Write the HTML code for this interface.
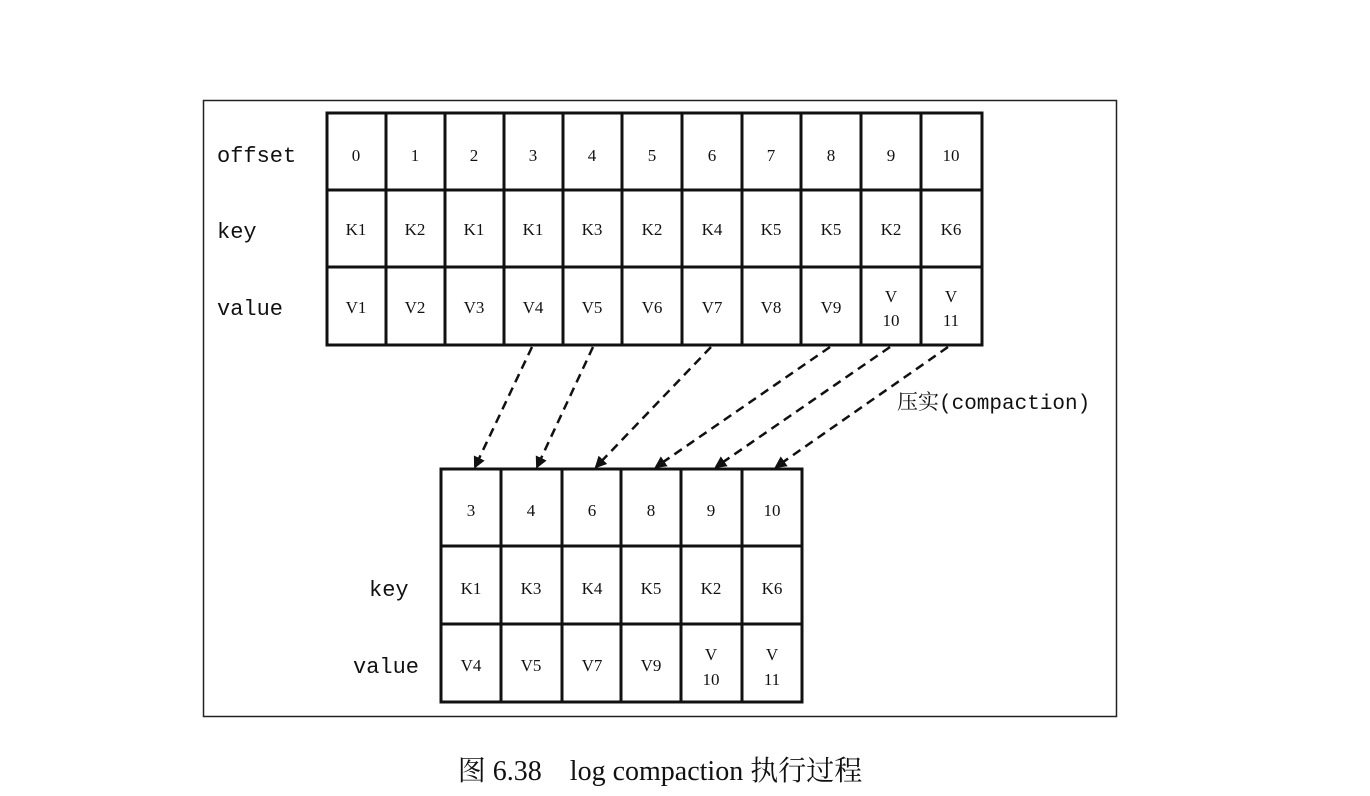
<!DOCTYPE html>
<html><head><meta charset="utf-8"><style>
html,body{margin:0;padding:0;background:#fff;}
body{width:1370px;height:796px;position:relative;overflow:hidden;}
svg{position:absolute;left:0;top:0;}
</style></head><body>
<svg width="1370" height="796" xmlns="http://www.w3.org/2000/svg">
<defs>
<marker id="ah" markerWidth="12" markerHeight="12" refX="10" refY="6" orient="auto" markerUnits="userSpaceOnUse">
<path d="M0,0 L12,6 L0,12 z" fill="#111"/>
</marker>
</defs>
<rect x="203.5" y="100.5" width="913" height="616" fill="none" stroke="#222" stroke-width="1.5"/>
<g font-family="Liberation Mono, monospace" font-size="22" fill="#111">
<text x="217" y="162">offset</text>
<text x="217" y="238">key</text>
<text x="217" y="315">value</text>
<text x="369" y="596">key</text>
<text x="353" y="673">value</text>
<text x="897" y="409" font-family="Liberation Mono, 'Noto Serif CJK SC', monospace" font-size="21">压实(compaction)</text>
</g>
<g stroke="#111" stroke-width="3" fill="none">
<rect x="327" y="113" width="655" height="232"/>
<line x1="327" y1="190" x2="982" y2="190"/>
<line x1="327" y1="267" x2="982" y2="267"/>
<line x1="386" y1="113" x2="386" y2="345"/>
<line x1="445" y1="113" x2="445" y2="345"/>
<line x1="504" y1="113" x2="504" y2="345"/>
<line x1="563" y1="113" x2="563" y2="345"/>
<line x1="622" y1="113" x2="622" y2="345"/>
<line x1="682" y1="113" x2="682" y2="345"/>
<line x1="742" y1="113" x2="742" y2="345"/>
<line x1="801" y1="113" x2="801" y2="345"/>
<line x1="861" y1="113" x2="861" y2="345"/>
<line x1="921" y1="113" x2="921" y2="345"/>
</g>
<g font-family="Liberation Serif, serif" font-size="17" fill="#111" text-anchor="middle">
<text x="356" y="161">0</text><text x="415" y="161">1</text><text x="474" y="161">2</text><text x="533" y="161">3</text><text x="592" y="161">4</text><text x="652" y="161">5</text><text x="712" y="161">6</text><text x="771" y="161">7</text><text x="831" y="161">8</text><text x="891" y="161">9</text><text x="951" y="161">10</text>
<text x="356" y="235">K1</text><text x="415" y="235">K2</text><text x="474" y="235">K1</text><text x="533" y="235">K1</text><text x="592" y="235">K3</text><text x="652" y="235">K2</text><text x="712" y="235">K4</text><text x="771" y="235">K5</text><text x="831" y="235">K5</text><text x="891" y="235">K2</text><text x="951" y="235">K6</text>
<text x="356" y="313">V1</text><text x="415" y="313">V2</text><text x="474" y="313">V3</text><text x="533" y="313">V4</text><text x="592" y="313">V5</text><text x="652" y="313">V6</text><text x="712" y="313">V7</text><text x="771" y="313">V8</text><text x="831" y="313">V9</text>
<text x="891" y="302">V</text><text x="891" y="326">10</text><text x="951" y="302">V</text><text x="951" y="326">11</text>
</g>
<g stroke="#111" stroke-width="3" fill="none">
<rect x="441" y="469" width="361" height="233"/>
<line x1="441" y1="546" x2="802" y2="546"/>
<line x1="441" y1="624" x2="802" y2="624"/>
<line x1="501" y1="469" x2="501" y2="702"/>
<line x1="562" y1="469" x2="562" y2="702"/>
<line x1="621" y1="469" x2="621" y2="702"/>
<line x1="681" y1="469" x2="681" y2="702"/>
<line x1="742" y1="469" x2="742" y2="702"/>
</g>
<g font-family="Liberation Serif, serif" font-size="17" fill="#111" text-anchor="middle">
<text x="471" y="516">3</text><text x="531" y="516">4</text><text x="592" y="516">6</text><text x="651" y="516">8</text><text x="711" y="516">9</text><text x="772" y="516">10</text>
<text x="471" y="594">K1</text><text x="531" y="594">K3</text><text x="592" y="594">K4</text><text x="651" y="594">K5</text><text x="711" y="594">K2</text><text x="772" y="594">K6</text>
<text x="471" y="671">V4</text><text x="531" y="671">V5</text><text x="592" y="671">V7</text><text x="651" y="671">V9</text>
<text x="711" y="660">V</text><text x="711" y="685">10</text><text x="772" y="660">V</text><text x="772" y="685">11</text>
</g>
<g stroke="#111" stroke-width="2.5" stroke-dasharray="9,6" fill="none" marker-end="url(#ah)">
<line x1="532" y1="347" x2="475" y2="467"/>
<line x1="593" y1="347" x2="537" y2="467"/>
<line x1="711" y1="347" x2="596" y2="467"/>
<line x1="830" y1="347" x2="656" y2="467"/>
<line x1="890" y1="347" x2="716" y2="467"/>
<line x1="948" y1="347" x2="776" y2="467"/>
</g>
<text x="660" y="780" text-anchor="middle" font-family="Liberation Serif, 'Noto Serif CJK SC', serif" font-size="28" fill="#111">图 6.38　log compaction 执行过程</text>
</svg>
</body></html>
